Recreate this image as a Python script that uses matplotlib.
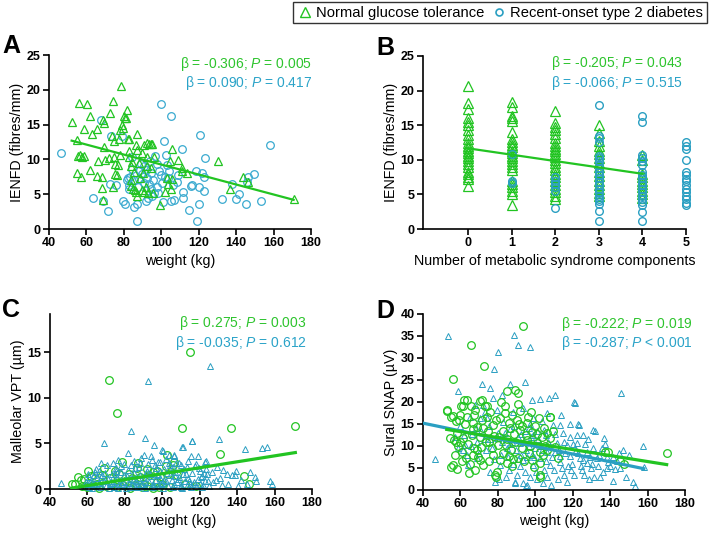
import numpy as np
import matplotlib
matplotlib.use("Agg")
import matplotlib.pyplot as plt
from matplotlib.lines import Line2D

plt.rcParams['font.family'] = ['Liberation Sans', 'DejaVu Sans']
plt.rcParams['mathtext.fontset'] = 'custom'
plt.rcParams['mathtext.it'] = 'Liberation Sans:italic'
plt.rcParams['mathtext.rm'] = 'Liberation Sans'

GREEN = '#22c422'
BLUE = '#3aaad0'
TEAL = '#2a9fc2'

# ---------------- data ----------------
# Panel A: weight (kg) vs IENFD (fibres/mm)
A_NGT = [(52.1, 15.4), (55.9, 18.1), (60.4, 18.0), (55.0, 12.8), (55.5, 10.5), (56.5, 10.6),
         (57.5, 10.4), (58.5, 10.5), (55.0, 8.1), (57.0, 7.4), (58.8, 14.3), (62.1, 16.3),
         (62.0, 8.5), (63.0, 13.6), (65.7, 14.3), (66.4, 9.8), (65.5, 7.6), (69.0, 15.6),
         (69.6, 15.3), (69.6, 11.8), (68.4, 5.9), (68.6, 4.2), (70.0, 9.9), (68.4, 7.4),
         (71.8, 10.2), (72.5, 16.6), (74.3, 18.4), (73.6, 13.3), (74.5, 12.6), (74.6, 10.4),
         (75.0, 9.3), (74.0, 6.1), (75.2, 7.9), (76.4, 7.7), (77.0, 9.2), (77.5, 13.0),
         (77.7, 10.7), (77.9, 14.2), (78.6, 20.6), (79.0, 15.0), (79.5, 14.5), (80.0, 16.2),
         (80.5, 16.0), (81.2, 15.9), (81.8, 17.1), (82.0, 13.0), (82.8, 12.9), (82.8, 11.2),
         (82.8, 10.3), (83.8, 9.0), (84.5, 9.6), (84.0, 6.2), (85.0, 5.8), (86.0, 5.6),
         (86.8, 13.6), (86.4, 12.1), (86.8, 11.4), (86.3, 5.3), (87.2, 4.7), (88.6, 7.3),
         (89.5, 10.9), (90.9, 12.1), (92.1, 12.4), (93.2, 12.2), (94.3, 12.2), (95.3, 12.2),
         (92.3, 10.3), (91.8, 6.1), (91.0, 5.3), (93.0, 5.2), (89.8, 5.6), (96.0, 10.4),
         (94.3, 8.7), (95.7, 5.2), (99.5, 3.5), (102.0, 5.3), (103.0, 7.3), (103.6, 6.5),
         (104.6, 9.7), (105.9, 11.5), (105.9, 7.2), (105.2, 5.7), (109.0, 9.9), (111.3, 8.7),
         (111.0, 8.3), (113.6, 8.0), (130.5, 9.7), (136.8, 5.8), (143.6, 7.5), (146.6, 6.7),
         (170.7, 4.3), (85.5, 8.2), (88.0, 9.5), (90.0, 8.0), (84.0, 7.0), (92.5, 9.0)]
A_T2D = [(46.3, 10.9), (63.6, 4.5), (68.9, 4.0), (68.0, 15.7), (71.3, 2.6), (72.5, 6.4),
         (72.9, 13.3), (76.0, 6.3), (78.8, 13.3), (79.3, 4.0), (80.5, 3.6), (81.5, 7.0),
         (82.2, 7.3), (83.3, 7.5), (82.7, 6.3), (84.1, 10.4), (84.6, 8.6), (85.5, 3.2),
         (86.8, 3.6), (87.1, 1.2), (88.6, 8.5), (89.1, 9.3), (89.8, 7.9), (90.5, 9.1),
         (90.9, 6.6), (91.8, 4.0), (92.7, 4.4), (92.1, 7.3), (93.4, 6.5), (94.3, 5.8),
         (94.6, 8.0), (95.0, 4.8), (96.1, 5.2), (96.8, 10.5), (97.5, 9.4), (97.9, 6.1),
         (98.2, 5.2), (99.8, 17.9), (100.5, 6.6), (101.0, 3.9), (101.4, 12.7), (102.0, 7.5),
         (102.5, 10.7), (102.9, 9.2), (103.4, 7.3), (104.1, 8.3), (105.2, 16.3), (105.0, 4.0),
         (106.4, 6.3), (107.0, 4.1), (108.2, 6.8), (109.0, 7.8), (110.9, 11.5), (111.4, 5.3),
         (111.8, 4.5), (114.8, 2.8), (115.7, 6.2), (116.6, 6.3), (118.6, 8.3), (118.9, 1.2),
         (120.2, 3.6), (120.4, 6.0), (120.7, 13.5), (121.8, 8.0), (122.9, 5.5), (123.2, 10.2),
         (123.0, 7.5), (132.3, 4.3), (137.7, 6.5), (139.8, 4.3), (141.3, 5.0), (145.2, 3.6),
         (145.7, 6.7), (146.3, 7.4), (149.8, 7.9), (153.4, 4.0), (158.2, 12.1), (85.5, 7.0),
         (87.5, 6.0), (88.0, 7.2), (92.0, 8.5), (93.8, 9.8), (95.5, 7.0), (99.0, 8.3),
         (100.0, 7.7), (83.0, 5.8)]

# Panel B: number of metabolic syndrome components vs IENFD
COMPONENTS = [0, 1, 2, 3, 4, 5]
B_NGT = [
    [20.6, 18.2, 17.4, 16.0, 15.5, 15.0, 14.3, 13.6, 13.0, 12.5, 12.0, 11.7, 11.3, 11.0,
     10.6, 10.2, 9.8, 9.4, 9.0, 8.3, 7.9, 7.5, 7.2, 6.2],
    [18.3, 17.7, 16.3, 16.0, 15.6, 14.0, 13.0, 12.6, 12.2, 11.8, 11.3, 11.0, 10.6, 10.2,
     9.8, 9.4, 9.0, 8.5, 7.0, 6.5, 6.0, 5.5, 5.0, 3.5],
    [17.0, 15.3, 14.8, 14.3, 13.8, 13.2, 12.5, 12.0, 11.6, 11.2, 10.8, 10.4, 10.0, 9.5,
     9.0, 8.5, 8.0, 7.5, 7.0, 6.3, 5.8, 5.3, 4.8, 4.3],
    [15.1, 13.9, 12.7, 12.0, 11.3, 10.8, 10.2, 9.5, 9.0, 8.3, 7.7, 7.0, 6.4, 5.8, 5.2, 4.7],
    [10.7, 9.9, 8.0, 7.5, 7.0, 6.5, 6.0, 5.5, 5.0, 4.5],
    [],
]
B_T2D = [
    [],
    [10.8, 7.0, 6.6],
    [7.5, 7.0, 6.5, 6.0, 5.5, 3.0],
    [17.9, 13.4, 13.1, 12.6, 10.6, 10.3, 9.8, 9.3, 8.8, 8.3, 7.8, 7.3, 6.8, 6.3, 5.8, 5.3,
     4.8, 4.4, 4.0, 3.6, 2.6, 1.1],
    [16.3, 15.5, 10.7, 10.3, 9.8, 9.3, 8.3, 7.8, 7.3, 6.8, 6.3, 5.8, 5.3, 4.8, 4.3, 3.9,
     3.5, 2.5, 1.1],
    [12.6, 12.0, 11.5, 10.0, 8.2, 7.8, 7.2, 6.9, 6.3, 5.8, 5.3, 4.8, 4.3, 3.8, 3.5],
]

# Panel C: weight vs malleolar VPT
C_NGT = [(114.9, 15.0), (71.7, 12.0), (76.0, 8.35), (110.4, 6.7), (136.7, 6.7), (171.1, 6.9),
         (130.6, 3.8), (78.5, 3.0), (69.0, 2.25), (60.2, 2.0), (86.9, 2.8), (86.5, 2.3),
         (106.0, 3.0), (105.6, 2.65), (101.9, 2.5), (91.7, 2.2), (54.8, 1.3), (51.6, 0.5),
         (53.5, 0.55), (56.6, 0.95), (58.0, 1.1), (62.0, 1.4), (65.0, 0.6), (68.0, 1.5),
         (72.0, 1.2), (74.5, 2.0), (77.0, 1.6), (80.0, 0.9), (82.0, 1.7), (84.0, 1.2),
         (88.0, 1.3), (90.0, 0.6), (93.0, 1.5), (95.0, 1.9), (97.0, 0.8), (99.0, 1.3),
         (103.0, 1.7), (108.0, 1.5), (143.8, 1.45), (146.6, 0.55), (57.0, 0.3), (60.0, 0.2),
         (63.0, 0.4), (66.0, 0.15), (70.0, 0.3), (73.0, 0.5), (76.0, 0.2), (79.0, 0.4),
         (83.0, 0.1), (86.0, 0.3), (89.0, 0.2), (92.0, 0.35), (95.0, 0.1), (98.0, 0.25),
         (100.0, 0.5), (104.0, 0.2), (112.0, 0.6), (118.0, 0.3), (102.4, 3.7), (97.1, 1.96)]
C_T2D = [(125.6, 13.5), (92.3, 11.8), (83.2, 6.4), (68.9, 5.0), (90.5, 5.55), (95.8, 4.8),
         (100.3, 4.2), (110.8, 4.65), (115.8, 5.3), (130.1, 5.5), (144.0, 4.4), (153.4, 4.5),
         (155.7, 4.65), (81.9, 3.9), (90.3, 3.75), (94.4, 3.2), (103.7, 3.75), (106.5, 3.65),
         (115.4, 3.65), (122.9, 2.95), (132.4, 2.1), (137.4, 1.55), (139.2, 2.0), (147.0, 1.9),
         (149.7, 1.3), (157.4, 0.85), (158.6, 0.55), (45.9, 0.65), (73.9, 2.8), (100.1, 4.25),
         (111.3, 4.6), (134.5, 1.7), (139.0, 1.5), (123.3, 3.05), (129.0, 2.4), (135.0, 0.6),
         (142.0, 1.0), (145.0, 0.5), (150.0, 0.9), (127.0, 0.8), (131.0, 1.2), (120.0, 2.0),
         (118.0, 2.7), (113.0, 2.4), (109.0, 2.9), (104.0, 2.6), (99.0, 3.0), (96.0, 2.6),
         (88.0, 2.8), (85.0, 3.1), (78.0, 2.5), (75.0, 2.0), (64.0, 1.9), (61.0, 1.3),
         (58, 0.3), (59, 0.8), (60, 0.5), (61, 0.2), (62, 1.0), (63, 0.6), (64, 0.3),
         (65, 1.2), (66, 0.7), (67, 0.4), (68, 1.5), (69, 0.9), (70, 0.3), (71, 1.1),
         (72, 0.6), (73, 1.7), (74, 0.2), (75, 0.9), (76, 1.3), (77, 0.5), (78, 1.9),
         (79, 0.8), (80, 0.3), (81, 1.4), (82, 0.7), (83, 1.1), (84, 0.4), (85, 1.8),
         (86, 0.9), (87, 0.2), (88, 1.5), (89, 0.6), (90, 1.2), (91, 0.3), (92, 2.0),
         (93, 0.8), (94, 1.4), (95, 0.5), (96, 1.0), (97, 1.7), (98, 0.4), (99, 1.2),
         (100, 0.7), (101, 2.2), (102, 0.9), (103, 0.3), (104, 1.5), (105, 1.0), (106, 0.5),
         (107, 1.9), (108, 0.8), (109, 1.3), (110, 0.4), (111, 1.6), (112, 0.9), (113, 0.3),
         (114, 1.2), (115, 0.6), (116, 1.8), (117, 0.8), (118, 0.3), (119, 1.1), (120, 0.6),
         (121, 1.4), (122, 0.4), (123, 0.9), (124, 1.6), (125, 0.3),
         (63.5, 1.5), (66.5, 0.2), (69.5, 1.8), (72.5, 0.9), (75.5, 2.3), (78.5, 0.6),
         (81.5, 2.1), (84.5, 1.0), (87.5, 2.4), (90.5, 0.8), (93.5, 1.6), (96.5, 2.3),
         (99.5, 0.5), (102.5, 1.8), (105.5, 2.4), (108.5, 1.1), (111.5, 2.2), (114.5, 0.9),
         (117.5, 2.5), (120.5, 1.3), (123.5, 2.2), (80.5, 0.1), (85.5, 0.2), (90.8, 0.1),
         (95.5, 0.3), (100.5, 0.1), (105.8, 0.2), (110.5, 0.1), (115.5, 0.2), (71.5, 0.1),
         (76.5, 0.1), (66.0, 2.0), (88.5, 3.4), (97.5, 3.0), (107.5, 2.8), (83.5, 2.6),
         (92.5, 2.7), (116.1, 5.3), (106.5, 3.7),
         (60.5, 1.6), (62.5, 0.1), (64.5, 2.2), (67.5, 1.3), (70.5, 2.6), (73.5, 0.7),
         (76.2, 3.2), (79.5, 1.5), (82.5, 0.2), (85.2, 2.3), (86.8, 1.2), (88.8, 0.4),
         (91.5, 1.8), (94.8, 0.2), (97.8, 1.5), (100.8, 1.0), (103.5, 2.9), (106.8, 1.4),
         (109.8, 0.2), (112.8, 1.7), (116.5, 0.5), (119.5, 2.3), (122.5, 1.8), (124.5, 0.9),
         (126.5, 1.9), (128.5, 1.0), (67.0, 2.9), (79.8, 2.7), (94.2, 3.6), (101.8, 3.3),
         (113.5, 3.1), (119.0, 3.6), (61.8, 0.7), (74.8, 1.6), (87.0, 0.6), (98.8, 2.0),
         (110.2, 2.6), (121.2, 0.2), (131.8, 0.4), (140.5, 0.3)]

# Panel D: weight vs sural SNAP (uV)
D_NGT = [(93.5, 37.2), (65.5, 33.0), (72.5, 28.1), (56.2, 25.3), (52.7, 18.2), (54.8, 16.7),
         (63.4, 20.5), (65.5, 19.0), (61.6, 19.0), (59.8, 17.1), (57.7, 15.6), (62.5, 14.9),
         (66.9, 15.2), (68.7, 14.4), (71.4, 20.5), (74.1, 19.0), (81.5, 20.1), (84.8, 22.4),
         (89.2, 22.8), (91.0, 22.0), (90.5, 19.5), (97.6, 17.8), (108.0, 16.7), (81.2, 16.3),
         (85.7, 15.2), (86.5, 14.0), (91.9, 13.7), (95.5, 15.2), (77.6, 14.8), (74.9, 13.3),
         (70.5, 12.1), (66.0, 12.5), (61.6, 11.8), (56.6, 11.4), (54.4, 11.8), (58.9, 9.9),
         (60.7, 8.7), (57.1, 8.0), (55.9, 5.7), (58.4, 4.8), (66.9, 8.0), (70.5, 6.8),
         (72.3, 5.7), (77.6, 8.0), (80.3, 10.3), (83.0, 8.4), (84.8, 6.2), (79.4, 4.1),
         (78.5, 3.4), (87.4, 5.4), (91.0, 7.2), (92.7, 9.5), (89.2, 11.0), (95.5, 11.4),
         (100.9, 10.6), (102.6, 8.7), (102.6, 3.4), (108.0, 11.8), (112.4, 7.2), (106.2, 12.9),
         (138.6, 8.6), (102.6, 6.1), (170.2, 8.35), (137.2, 8.7), (145.0, 6.6), (147.5, 6.0),
         (102.3, 2.9), (79.2, 3.0), (55.2, 5.3), (68.0, 4.5), (60.5, 19.0), (53.0, 18.0),
         (68.0, 18.2), (56.0, 16.9), (70.4, 20.3), (73.0, 19.0), (62.0, 20.5), (101.9, 16.3),
         (107.8, 16.7), (64.0, 10.5), (67.5, 9.5), (75.0, 10.8), (78.0, 12.2), (82.5, 13.5),
         (85.0, 11.5), (87.0, 9.0), (88.5, 12.8), (93.0, 14.5), (96.5, 8.5), (98.5, 13.2),
         (99.5, 5.2), (104.5, 14.2), (110.5, 9.8), (58.0, 13.0), (60.0, 11.0), (63.0, 7.2),
         (65.0, 6.0), (69.0, 9.2), (72.0, 14.0), (75.5, 6.5), (81.0, 6.8), (84.0, 17.5),
         (86.0, 7.7), (90.0, 16.0), (94.0, 6.5), (97.0, 10.0), (105.0, 10.0), (74.0, 16.5),
         (59.5, 15.8), (63.5, 16.5), (67.5, 17.0), (71.5, 15.8), (76.0, 17.8), (79.0, 16.0),
         (83.8, 19.0), (87.8, 17.0), (92.0, 18.0), (96.0, 16.5), (100.0, 14.5), (103.5, 12.0),
         (106.5, 9.0), (109.5, 13.5), (61.0, 6.5), (64.5, 3.8), (69.5, 7.5), (73.8, 11.0),
         (76.8, 9.5), (80.8, 12.0), (84.5, 10.2), (88.0, 7.0), (91.5, 15.0), (95.0, 12.5),
         (98.0, 6.8), (101.0, 12.8), (104.0, 8.0), (57.5, 10.8), (66.5, 13.8), (71.0, 9.8)]
D_T2D = [(53.4, 35.1), (88.5, 35.3), (90.8, 33.0), (97.1, 32.6), (80.1, 31.3), (78.0, 27.5),
         (145.6, 22.0), (120.6, 20.0), (58.7, 22.4), (46.2, 7.0), (157.4, 10.0), (158.0, 5.3),
         (152.4, 1.9), (153.5, 0.8), (141.7, 2.1), (136.3, 4.0), (129.7, 4.9), (131.9, 13.5),
         (122.9, 15.0), (141.7, 7.6), (147.0, 9.0), (93.5, 1.7), (95.3, 0.8), (89.0, 1.8),
         (145.5, 5.0), (148.5, 3.0), (142.5, 4.8), (150.0, 8.0), (139.0, 6.3), (134.5, 3.0),
         (128.5, 2.5), (125.0, 4.5), (120.5, 3.4), (117.0, 1.9), (112.0, 2.6), (108.5, 1.2),
         (104.0, 1.5), (101.0, 2.4), (84.5, 3.0), (71.4, 24.1), (75.9, 23.1), (86.6, 24.1),
         (94.6, 24.5), (102.6, 20.7), (107.1, 20.9), (110.6, 21.5), (121.0, 19.7), (98.1, 20.5),
         (82.1, 21.6), (77.6, 20.9), (72.3, 19.4), (67.8, 19.4), (65.1, 16.7), (70.5, 16.3),
         (73.2, 17.8), (74.1, 16.3), (79.4, 18.2), (88.3, 17.8), (93.7, 18.6), (99.0, 16.3),
         (103.5, 15.6), (109.7, 14.8), (113.3, 14.8), (118.6, 14.9), (123.1, 14.8), (131.1, 13.7),
         (136.5, 11.8), (125.7, 12.5), (122.2, 12.5), (118.6, 12.1), (115.0, 12.9), (111.5, 10.6),
         (116.8, 10.2), (122.2, 10.6), (127.5, 8.7), (131.1, 9.5), (118.6, 7.8), (123.9, 7.2),
         (127.5, 6.1), (132.8, 7.2), (138.2, 7.6), (113.3, 6.4), (108.0, 5.7), (104.4, 4.6),
         (99.0, 5.7), (94.6, 4.2), (90.1, 3.4), (89.2, 1.5), (95.5, 1.1), (81.2, 5.7),
         (78.5, 1.9), (75.9, 4.2), (68.7, 7.2), (64.2, 5.7), (63.4, 8.0), (61.6, 9.1),
         (84.8, 9.5), (87.4, 11.0), (91.9, 10.6), (96.4, 9.9), (99.0, 12.5), (94.6, 13.3),
         (104.4, 13.7), (106.2, 8.7), (110.6, 8.7), (102.6, 7.2), (98.1, 8.0), (93.7, 6.8),
         (57.0, 12.0), (60.0, 14.5), (62.5, 10.2), (66.0, 12.8), (69.0, 11.0), (71.0, 13.5),
         (73.5, 9.0), (76.0, 11.5), (78.0, 7.0), (80.0, 13.0), (82.0, 10.8), (83.5, 12.0),
         (85.5, 7.5), (86.5, 13.8), (88.0, 6.0), (89.5, 9.0), (91.0, 12.0), (92.5, 8.0),
         (94.0, 11.0), (95.8, 7.5), (97.5, 12.0), (100.0, 9.5), (101.5, 11.5), (103.0, 10.0),
         (105.5, 6.5), (107.0, 11.0), (109.0, 7.5), (112.5, 9.0), (114.5, 5.0), (116.0, 8.5),
         (119.5, 6.0), (121.5, 9.0), (124.5, 5.5), (126.5, 10.5), (129.0, 7.5), (133.5, 5.5),
         (135.5, 9.5), (143.5, 6.5), (80.5, 2.5), (86.0, 4.5), (92.0, 5.5), (97.0, 3.0),
         (100.5, 4.0), (106.5, 3.0), (110.0, 4.5), (115.5, 3.5), (119.0, 4.5), (126.0, 3.5),
         (131.5, 3.0), (138.5, 5.0), (83.0, 15.5), (97.0, 15.0), (106.0, 17.5), (114.0, 17.0),
         (58.5, 9.5), (62.0, 12.5), (65.5, 10.0), (68.5, 14.0), (70.0, 8.5), (72.5, 11.5),
         (75.0, 14.5), (77.0, 9.5), (79.5, 11.8), (81.5, 8.0), (84.0, 13.0), (86.5, 10.5),
         (88.5, 14.5), (90.5, 7.0), (92.5, 12.8), (95.0, 9.0), (96.8, 14.0), (99.5, 7.5),
         (101.0, 13.5), (103.8, 9.2), (105.5, 12.5), (108.0, 10.0), (110.5, 12.8), (113.0, 7.8),
         (115.5, 11.0), (117.5, 5.5), (120.0, 10.5), (123.0, 8.5), (125.5, 6.8), (128.0, 11.5),
         (130.5, 6.0), (134.0, 8.0), (137.0, 10.5), (140.0, 5.5), (144.5, 8.3)]

# regression lines: (slope, intercept)
FIT_A = (-0.0717, 16.43)
FIT_B = (-0.92, 11.66)
FIT_C = (0.0326, -1.58)
FIT_D_NGT = (-0.068, 17.35)
FIT_D_T2D = (-0.0877, 18.7)

STATS = {
    'A': ("β = -0.306; $\\mathit{P}$ = 0.005", "β = 0.090; $\\mathit{P}$ = 0.417"),
    'B': ("β = -0.205; $\\mathit{P}$ = 0.043", "β = -0.066; $\\mathit{P}$ = 0.515"),
    'C': ("β = 0.275; $\\mathit{P}$ = 0.003", "β = -0.035; $\\mathit{P}$ = 0.612"),
    'D': ("β = -0.222; $\\mathit{P}$ = 0.019", "β = -0.287; $\\mathit{P}$ < 0.001"),
}


def xy(pairs):
    arr = np.array(pairs, dtype=float)
    return arr[:, 0], arr[:, 1]


def style_axes(ax, xlim, xticks, ylim, yticks, xlabel, ylabel):
    ax.set_xlim(*xlim)
    ax.set_ylim(*ylim)
    ax.set_xticks(xticks)
    ax.set_yticks(yticks)
    for side in ('top', 'right'):
        ax.spines[side].set_visible(False)
    for side in ('left', 'bottom'):
        ax.spines[side].set_linewidth(1.2)
    ax.tick_params(direction='out', length=4, width=1.2, labelsize=9, pad=2)
    for lab in ax.get_xticklabels() + ax.get_yticklabels():
        lab.set_fontweight('bold')
    ax.set_xlabel(xlabel, fontsize=10.3, labelpad=3)
    ax.set_ylabel(ylabel, fontsize=10.3, labelpad=2)


def add_stats(ax, key, x, y1, y2):
    t1, t2 = STATS[key]
    ax.text(x, y1, t1, transform=ax.transAxes, ha='right', va='center', color='#2dc42d', fontsize=10)
    ax.text(x, y2, t2, transform=ax.transAxes, ha='right', va='center', color='#2aa3c8', fontsize=10)


def fit_line(ax, fit, x0, x1, color, lw):
    xs = np.array([x0, x1])
    ax.plot(xs, fit[0] * xs + fit[1], color=color, lw=lw, zorder=5)


fig = plt.figure(figsize=(7.09, 5.34), dpi=100)
H = 534.0
W = 709.0

axA = fig.add_axes([49 / W, 1 - 229 / H, 262 / W, 174 / H])
axB = fig.add_axes([423 / W, 1 - 229 / H, 263 / W, 173 / H])
axC = fig.add_axes([50 / W, 1 - 489 / H, 262 / W, 175 / H])
axD = fig.add_axes([423 / W, 1 - 490 / H, 262 / W, 176 / H])

# ---- A ----
w, v = xy(A_T2D)
axA.plot(w, v, 'o', ms=5.5, mfc='none', mec=BLUE, mew=0.9, clip_on=False)
w, v = xy(A_NGT)
axA.plot(w, v, '^', ms=6, mfc='none', mec=GREEN, mew=0.9, clip_on=False)
fit_line(axA, FIT_A, w.min(), w.max(), GREEN, 1.6)
style_axes(axA, (40, 180), range(40, 181, 20), (0, 25), range(0, 26, 5),
           'weight (kg)', 'IENFD (fibres/mm)')
add_stats(axA, 'A', 1.005, 0.948, 0.839)

# ---- B ----
for k, vals in zip(COMPONENTS, B_NGT):
    axB.plot([k] * len(vals), vals, '^', ms=7, mfc='none', mec=GREEN, mew=0.9)
for k, vals in zip(COMPONENTS, B_T2D):
    axB.plot([k] * len(vals), vals, 'o', ms=5.5, mfc='none', mec=TEAL, mew=1.0, clip_on=False)
fit_line(axB, FIT_B, 0, 4, GREEN, 1.6)
style_axes(axB, (-1.03, 5), COMPONENTS, (0, 25), range(0, 26, 5),
           'Number of metabolic syndrome components', 'IENFD (fibres/mm)')
add_stats(axB, 'B', 0.99, 0.96, 0.844)

# ---- C ----
w, v = xy(C_NGT)
axC.plot(w, v, 'o', ms=5.5, mfc='none', mec=GREEN, mew=0.9, clip_on=False)
fit_line(axC, FIT_C, w.min(), w.max(), GREEN, 2.3)
w, v = xy(C_T2D)
axC.plot(w, v, '^', ms=3.8, mfc='none', mec=TEAL, mew=0.7, clip_on=False)
style_axes(axC, (40, 180), range(40, 181, 20), (0, 19.2), range(0, 16, 5),
           'weight (kg)', 'Malleolar VPT (µm)')
add_stats(axC, 'C', 0.98, 0.949, 0.834)

# ---- D ----
w, v = xy(D_T2D)
axD.plot(w, v, '^', ms=3.8, mfc='none', mec=TEAL, mew=0.7, clip_on=False)
fit_line(axD, FIT_D_T2D, 40, w.max(), TEAL, 2.3)
w, v = xy(D_NGT)
axD.plot(w, v, 'o', ms=5.5, mfc='none', mec=GREEN, mew=0.9, clip_on=False)
fit_line(axD, FIT_D_NGT, w.min(), w.max(), GREEN, 2.3)
style_axes(axD, (40, 180), range(40, 181, 20), (0, 40), range(0, 41, 5),
           'weight (kg)', 'Sural SNAP (µV)')
add_stats(axD, 'D', 1.03, 0.943, 0.835)

# panel letters
for letter, (x, y) in {'A': (2, 53), 'B': (376, 55), 'C': (2, 317), 'D': (376, 318)}.items():
    fig.text(x / W, 1 - y / H, letter, fontsize=18, fontweight='bold', va='baseline', ha='left')

# legend
handles = [Line2D([], [], ls='none', marker='^', ms=7, mfc='none', mec=GREEN, mew=1.0),
           Line2D([], [], ls='none', marker='o', ms=5, mfc='none', mec=TEAL, mew=1.2)]
leg = fig.legend(handles, ['Normal glucose tolerance', 'Recent-onset type 2 diabetes'],
                 loc='upper right', bbox_to_anchor=(707 / W, 1 - 2 / H), ncol=2, fontsize=10.6,
                 frameon=True, fancybox=False, edgecolor='black', borderpad=0.25,
                 handletextpad=0.2, columnspacing=0.5, handlelength=1.1, borderaxespad=0)
leg.get_frame().set_linewidth(1.0)

fig.savefig('out.png', dpi=100)
